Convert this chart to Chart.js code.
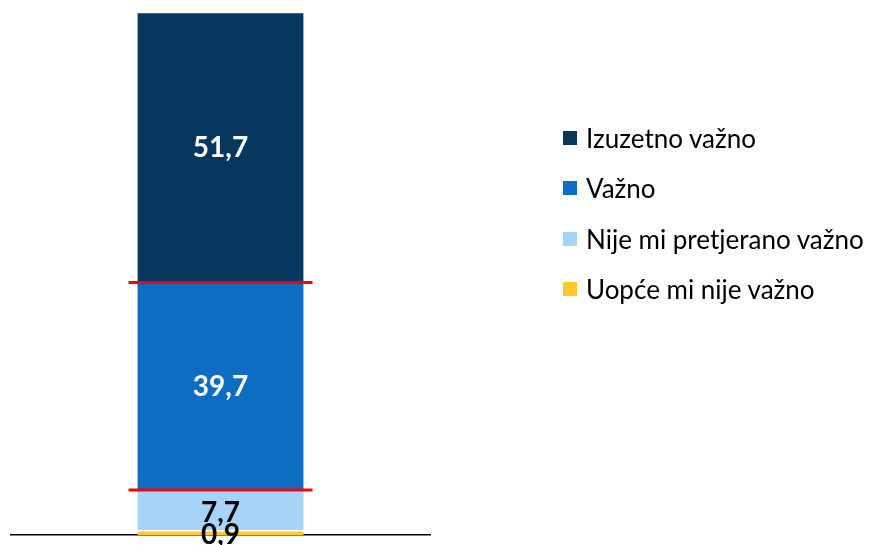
<!DOCTYPE html>
<html>
<head>
<meta charset="utf-8">
<script src="https://cdn.jsdelivr.net/npm/chart.js@4"></script>
<style>
  html, body { margin: 0; padding: 0; background: #fff; }
  #wrap { position: relative; width: 870px; height: 545px; overflow: hidden; }
  #legend { position: absolute; left: 563px; top: 122px; font-family: Lato, sans-serif; font-size: 26px; color: #000; }
  #legend div { height: 50.3px; display: flex; align-items: flex-start; white-space: nowrap; }
  #legend span.box { display: inline-block; width: 14px; height: 14px; margin: 9px 9px 0 0; }
</style>
</head>
<body>
<div id="wrap">
  <canvas id="chart" width="870" height="545"></canvas>
  <div id="legend"></div>
</div>
<script>
const categories = [''];
const seriesNames = ['Uopće mi nije važno', 'Nije mi pretjerano važno', 'Važno', 'Izuzetno važno'];
const seriesValues = [[0.9], [7.7], [39.7], [51.7]];
const seriesColors = ['#FFC929', '#A6D3F8', '#0C6DC2', '#07365F'];
const labelColors = ['#000', '#000', '#fff', '#fff'];
// boundaries marked with red lines (index of dataset whose top gets the line)
const markedTops = [1, 2];

const segmentLabels = {
  id: 'segmentLabels',
  afterDatasetsDraw(chart) {
    const ctx = chart.ctx;
    const y = chart.scales.y;
    // red lines
    markedTops.forEach(i => {
      const bar = chart.getDatasetMeta(i).data[0];
      let cum = 0;
      for (let k = 0; k <= i; k++) cum += seriesValues[k][0];
      const py = y.getPixelForValue(cum);
      ctx.save();
      ctx.strokeStyle = '#FF0000';
      ctx.lineWidth = 3;
      ctx.beginPath();
      ctx.moveTo(bar.x - bar.width / 2 - 9, py);
      ctx.lineTo(bar.x + bar.width / 2 + 9, py);
      ctx.stroke();
      ctx.restore();
    });
    // value labels
    chart.data.datasets.forEach((ds, i) => {
      const bar = chart.getDatasetMeta(i).data[0];
      const c = bar.getCenterPoint();
      let dy = 1;
      if (i === 0) dy = 2;
      if (i === 1) dy = 3;
      ctx.save();
      ctx.font = 'bold 28px Lato, sans-serif';
      ctx.fillStyle = labelColors[i];
      ctx.textAlign = 'center';
      ctx.textBaseline = 'middle';
      ctx.fillText(ds.data[0].toFixed(1).replace('.', ','), c.x, c.y + dy);
      ctx.restore();
    });
  }
};

new Chart(document.getElementById('chart'), {
  type: 'bar',
  data: {
    labels: categories,
    datasets: seriesNames.map((name, i) => ({
      label: name,
      data: seriesValues[i],
      backgroundColor: seriesColors[i],
      borderColor: '#fff',
      borderWidth: { top: 1.5, bottom: 0, left: 0, right: 0 },
      borderSkipped: false,
      barThickness: 166
    }))
  },
  options: {
    responsive: false,
    animation: false,
    layout: { padding: { left: 11, right: 440, top: 12, bottom: 2 } },
    plugins: { legend: { display: false }, tooltip: { enabled: false } },
    scales: {
      x: {
        stacked: true,
        grid: { display: false },
        ticks: { display: false },
        border: { color: '#000', width: 1.5 }
      },
      y: {
        stacked: true,
        min: 0,
        max: 100,
        display: false
      }
    }
  },
  plugins: [segmentLabels]
});

const legend = document.getElementById('legend');
for (let i = seriesNames.length - 1; i >= 0; i--) {
  const row = document.createElement('div');
  const box = document.createElement('span');
  box.className = 'box';
  box.style.background = seriesColors[i];
  row.appendChild(box);
  row.appendChild(document.createTextNode(seriesNames[i]));
  legend.appendChild(row);
}
</script>
</body>
</html>
